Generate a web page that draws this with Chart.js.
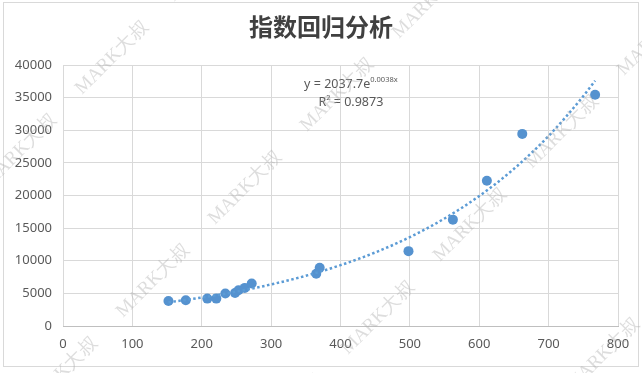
<!DOCTYPE html>
<html>
<head>
<meta charset="utf-8">
<script src="https://cdn.jsdelivr.net/npm/chart.js@4"></script>
<style>
  html, body { margin: 0; padding: 0; background: #fff; }
  canvas { display: block; }
</style>
</head>
<body>
<canvas id="chart" width="642" height="373"></canvas>
<script>
// 样本数据
const sampleX = [152, 177, 208, 221, 234, 248, 253, 262, 272, 365, 370, 498, 562, 611, 662, 767];
const sampleY = [3840, 3950, 4200, 4200, 4980, 5070, 5480, 5840, 6510, 8000, 8930, 11470, 16300, 22270, 29440, 35450];

// 趋势线 (从图上读取的点)
const trendX = [152, 200, 250, 300, 350, 400, 450, 500, 550, 600, 650, 700, 750, 767];
const trendY = [3630, 4360, 5270, 6370, 7700, 9320, 11270, 13620, 16480, 19920, 24090, 29130, 35230, 37580];

const titleText = '指数回归分析';
const equationMain = 'y = 2037.7e';
const equationSup = '0.0038x';
const rSquared = '0.9873';
const equationAnchor = [415, 37000];
const watermark = 'MARK大叔';

const textColor = '#595959';
const gridColor = '#d9d9d9';
const blue = '#5592cf';

// 边框 + 白底 + 标题
const frame = {
  id: 'frame',
  beforeDraw(chart) {
    const c = chart.ctx;
    c.save();
    c.fillStyle = '#fff';
    c.fillRect(0, 0, chart.width, chart.height);
    c.strokeStyle = '#d9d9d9';
    c.lineWidth = 1;
    c.strokeRect(3.5, 2.5, chart.width - 7, chart.height - 9);
    c.fillStyle = '#404040';
    c.font = 'bold 24px "Noto Sans CJK SC"';
    c.textAlign = 'center';
    c.textBaseline = 'middle';
    c.fillText(titleText, chart.width / 2, 27);
    c.restore();
  }
};

// 公式标签
const equation = {
  id: 'equation',
  afterDatasetsDraw(chart) {
    const c = chart.ctx;
    const cx = chart.scales.x.getPixelForValue(equationAnchor[0]);
    const cy = chart.scales.y.getPixelForValue(equationAnchor[1]);
    const big = '12.5px "Noto Sans"';
    const small = '7.5px "Noto Sans"';
    c.save();
    c.fillStyle = textColor;
    c.textBaseline = 'middle';
    c.textAlign = 'left';

    c.font = big;
    const w1 = c.measureText(equationMain).width;
    c.font = small;
    const w2 = c.measureText(equationSup).width;
    let x = cx - (w1 + w2) / 2;
    c.font = big;
    c.fillText(equationMain, x, cy);
    c.font = small;
    c.fillText(equationSup, x + w1, cy - 5);

    const y2 = cy + 18;
    const rest = ' = ' + rSquared;
    c.font = big;
    const wr = c.measureText('R').width;
    const wrest = c.measureText(rest).width;
    c.font = small;
    const w2s = c.measureText('2').width;
    x = cx - (wr + w2s + wrest) / 2;
    c.font = big;
    c.fillText('R', x, y2);
    c.font = small;
    c.fillText('2', x + wr, y2 - 5);
    c.font = big;
    c.fillText(rest, x + wr + w2s, y2);
    c.restore();
  }
};

// 水印
const marks = {
  id: 'marks',
  afterDraw(chart) {
    const c = chart.ctx;
    c.save();
    c.font = '19px "Liberation Serif"';
    c.fillStyle = 'rgba(175,175,175,0.42)';
    c.textAlign = 'center';
    c.textBaseline = 'middle';
    for (let i = -2; i <= 4; i++) {
      for (let j = -3; j <= 4; j++) {
        const px = 112 + 133 * i + 92 * j;
        const py = 58 + 130 * i - 93 * j;
        if (px < -60 || px > 700 || py < -50 || py > 420) continue;
        c.save();
        c.translate(px, py);
        c.rotate(-Math.PI / 4);
        c.fillText(watermark, 0, 0);
        c.restore();
      }
    }
    c.restore();
  }
};

const plain = v => String(v);

new Chart(document.getElementById('chart'), {
  type: 'scatter',
  data: {
    datasets: [
      {
        label: '样本',
        data: sampleX.map((x, i) => ({ x: x, y: sampleY[i] })),
        backgroundColor: blue,
        borderColor: blue,
        borderWidth: 0,
        pointRadius: 5,
        order: 2
      },
      {
        label: '趋势线',
        data: trendX.map((x, i) => ({ x: x, y: trendY[i] })),
        showLine: true,
        borderColor: '#5b9bd5',
        borderWidth: 2.5,
        borderDash: [2.5, 2.5],
        cubicInterpolationMode: 'monotone',
        pointRadius: 0,
        order: 1
      }
    ]
  },
  options: {
    responsive: false,
    devicePixelRatio: 1,
    animation: false,
    layout: { padding: { left: 0, right: 24, top: 65, bottom: 0 } },
    plugins: {
      legend: { display: false },
      tooltip: { enabled: false },
      title: { display: false }
    },
    scales: {
      x: {
        type: 'linear',
        min: 0,
        max: 800,
        ticks: { stepSize: 100, color: textColor, font: { family: '"Noto Sans"', size: 13 }, padding: 10, callback: plain },
        grid: { color: gridColor, drawTicks: false },
        border: { color: '#bfbfbf' },
        afterFit: s => { s.height = 47; }
      },
      y: {
        min: 0,
        max: 40000,
        ticks: { stepSize: 5000, color: textColor, font: { family: '"Noto Sans"', size: 13 }, padding: 11, callback: plain },
        grid: { color: gridColor, drawTicks: false },
        border: { display: false },
        afterFit: s => { s.width = 63; }
      }
    }
  },
  plugins: [frame, equation, marks]
});
</script>
</body>
</html>
